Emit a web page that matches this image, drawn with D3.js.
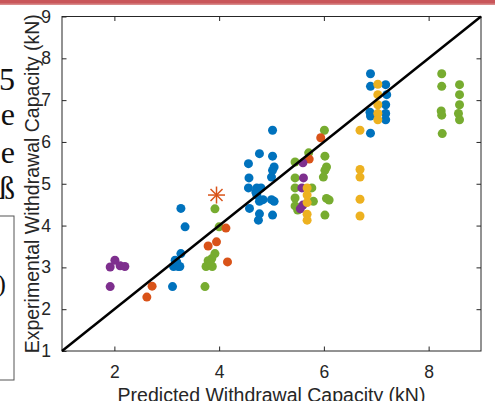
<!DOCTYPE html>
<html><head><meta charset="utf-8">
<script src="https://cdn.jsdelivr.net/npm/d3@7"></script>
<style>html,body{margin:0;padding:0;background:#fff;overflow:hidden}</style>
</head><body>
<svg id="c" width="495" height="401"></svg>
<script>
const xTicks = [2, 4, 6, 8];
const yTicks = [1, 2, 3, 4, 5, 6, 7, 8, 9];
const xLabel = "Predicted Withdrawal Capacity (kN)";
const yLabel = "Experimental Withdrawal Capacity (kN)";

const blue = [[3.27,4.41],[3.35,3.97],[3.27,3.33],[3.16,3.17],[3.13,3.02],[3.22,3.02],[3.19,3.13],[3.25,3.02],[3.11,2.54],
  [5.02,6.28],[4.77,5.72],[5.02,5.66],[4.56,5.48],[5.05,5.40],[5.02,5.32],[4.57,5.14],[5.0,5.16],[4.56,4.90],[4.72,4.90],[4.80,4.90],
  [4.72,4.73],[4.77,4.58],[4.84,4.62],[5.0,4.62],[5.05,4.58],[4.58,4.41],[4.77,4.28],[4.75,4.13],[5.02,4.25],[4.70,4.80],
  [6.89,7.63],[6.89,7.33],[7.18,7.37],[7.2,7.13],[7.18,6.89],[6.88,6.71],[6.89,6.62],[7.18,6.68],[7.18,6.53],[6.89,6.21]];
const orange = [[4.13,3.94],[3.95,3.61],[3.79,3.51],[4.16,3.13],[2.72,2.55],[2.62,2.29],[5.94,6.10],[5.72,5.59]];
const orangeStar = [[3.95,4.73]];
const yellow = [[5.68,4.90],[5.68,4.73],[5.68,4.55],[5.68,4.27],[5.68,4.13],[6.69,6.28],[6.69,5.34],[6.69,5.16],[6.69,4.63],[6.69,4.23],
  [7.03,7.38],[7.03,7.13],[7.03,6.89],[7.03,6.68],[7.03,6.53]];
const purple = [[1.92,3.01],[2.01,3.17],[2.11,3.04],[2.2,3.02],[1.92,2.54],[5.6,5.50],[5.61,5.14],[5.58,4.90],[5.6,4.49],[5.55,4.40]];
const green = [[3.92,4.40],[4.0,3.97],[3.92,3.33],[3.86,3.21],[3.79,3.16],[3.75,3.02],[3.87,3.02],[3.83,3.09],[3.73,2.54],
  [6.01,6.28],[5.71,5.74],[6.02,5.66],[5.45,5.52],[6.05,5.40],[6.02,5.32],[5.45,5.14],[5.99,5.16],[5.45,4.90],[5.77,4.90],[5.45,4.66],
  [5.8,4.58],[6.05,4.65],[6.10,4.61],[5.45,4.47],[5.5,4.37],[6.02,4.25],[5.52,4.42],
  [8.25,7.63],[8.25,7.33],[8.24,6.74],[8.25,6.64],[8.26,6.20],[8.59,7.37],[8.59,7.13],[8.59,6.89],[8.57,6.68],[8.59,6.53]];
const diagonal = [[1,1],[9,9]];

const svg = d3.select("#c");
const L = 62, R = 481, T = 16.5, B = 351;
const x = d3.scaleLinear().domain([1, 9]).range([L, R]);
const y = d3.scaleLinear().domain([1, 9]).range([B, T]);
const font = "'Liberation Sans', Arial, Helvetica, sans-serif";

// clipped surroundings
svg.append("rect").attr("x", 0).attr("y", 0).attr("width", 495).attr("height", 5).attr("fill", "#c9565a");
svg.append("rect").attr("x", 0).attr("y", 3.5).attr("width", 495).attr("height", 1.5).attr("fill", "#d98a8a");
const serif = "'Liberation Serif', 'DejaVu Serif', serif";
[["5", 90], ["e", 125], ["e", 163], ["ß", 199]].forEach(d => {
  svg.append("text").attr("x", 15).attr("y", d[1]).attr("text-anchor", "end")
    .attr("font-family", serif).attr("font-size", 32).attr("fill", "#111").text(d[0]);
});
svg.append("rect").attr("x", -5).attr("y", 216).attr("width", 19).attr("height", 164)
  .attr("fill", "#fff").attr("stroke", "#555").attr("stroke-width", 1);
svg.append("text").attr("x", 6).attr("y", 292).attr("text-anchor", "end")
  .attr("font-family", serif).attr("font-size", 26).attr("fill", "#111").text(")");

// axes frame
const g = svg.append("g");
g.append("rect").attr("x", L).attr("y", T).attr("width", R - L).attr("height", B - T)
  .attr("fill", "#fff").attr("stroke", "#262626").attr("stroke-width", 1);

const axB = d3.axisBottom(x).tickValues(xTicks).tickSize(-4.5).tickPadding(15).tickFormat(d3.format("d"));
const axT = d3.axisTop(x).tickValues(xTicks).tickSize(-4.5).tickFormat("");
const axL = d3.axisLeft(y).tickValues(yTicks).tickSize(-4.5).tickPadding(11).tickFormat(d3.format("d"));
const axR = d3.axisRight(y).tickValues(yTicks.slice(1, -1)).tickSize(-4.5).tickFormat("");
function style(sel) {
  sel.select(".domain").remove();
  sel.selectAll(".tick line").attr("stroke", "#262626").attr("stroke-width", 1);
  sel.selectAll(".tick text").attr("fill", "#262626").attr("font-family", font).attr("font-size", 17.5);
}
g.append("g").attr("transform", `translate(0,${B})`).call(axB).call(style);
g.append("g").attr("transform", `translate(0,${T})`).call(axT).call(style);
g.append("g").attr("transform", `translate(${L},0)`).call(axL).call(style);
g.append("g").attr("transform", `translate(${R},0)`).call(axR).call(style);

// points
const series = [
  {data: green, color: "#77AC30"},
  {data: blue, color: "#0072BD"},
  {data: orange, color: "#D95319"},
  {data: purple, color: "#7E2F8E"},
  {data: yellow, color: "#EDB120"}
];
series.forEach(s => {
  g.append("g").selectAll("circle").data(s.data).join("circle")
    .attr("cx", d => x(d[0])).attr("cy", d => y(d[1])).attr("r", 4.5).attr("fill", s.color);
});
// star marker
orangeStar.forEach(d => {
  const cx = x(d[0]), cy = y(d[1]), r = 8.5, rd = 6;
  const sg = g.append("g").attr("stroke", "#D95319").attr("stroke-width", 1.5);
  sg.append("line").attr("x1", cx - r).attr("x2", cx + r).attr("y1", cy).attr("y2", cy);
  sg.append("line").attr("x1", cx).attr("x2", cx).attr("y1", cy - r).attr("y2", cy + r);
  sg.append("line").attr("x1", cx - rd).attr("x2", cx + rd).attr("y1", cy - rd).attr("y2", cy + rd);
  sg.append("line").attr("x1", cx - rd).attr("x2", cx + rd).attr("y1", cy + rd).attr("y2", cy - rd);
});

// 1:1 line
g.append("path").datum(diagonal)
  .attr("d", d3.line().x(d => x(d[0])).y(d => y(d[1])))
  .attr("stroke", "#000").attr("stroke-width", 2.5).attr("fill", "none");

// labels
svg.append("text").attr("x", (L + R) / 2).attr("y", 402).attr("text-anchor", "middle")
  .attr("font-family", font).attr("font-size", 19.5).attr("fill", "#262626").text(xLabel);
svg.append("text").attr("transform", `translate(38.5,${(T + B) / 2}) rotate(-90)`).attr("text-anchor", "middle")
  .attr("font-family", font).attr("font-size", 19.5).attr("fill", "#262626").text(yLabel);
</script>
</body></html>
